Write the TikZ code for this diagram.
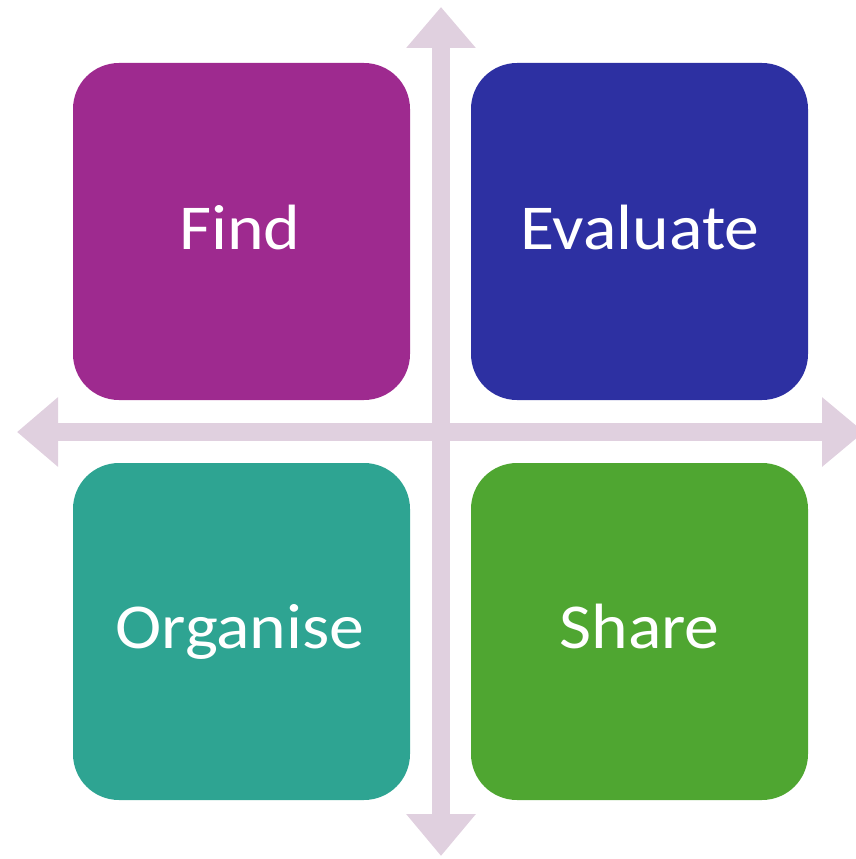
\documentclass[tikz,border=0pt]{standalone}
\usepackage{fontspec}
\usepackage{graphicx}
\setmainfont{Carlito}
\usetikzlibrary{arrows.meta}
\definecolor{arrowc}{RGB}{224,208,223}
\definecolor{findc}{RGB}{158,42,143}
\definecolor{evalc}{RGB}{45,48,162}
\definecolor{orgc}{RGB}{46,164,146}
\definecolor{sharec}{RGB}{79,166,49}
\newcommand{\qtext}[1]{\scalebox{1.09}[1]{#1}}
\tikzset{
  quad/.style={rounded corners=46pt, minimum width=337pt, minimum height=337pt, inner sep=0pt, draw=none},
  lbl/.style={text=white, font=\fontsize{64}{64}\selectfont, anchor=base, inner sep=0pt},
  axis/.style={arrowc, line width=18pt, {Triangle[length=41pt,width=67pt]}-{Triangle[length=42pt,width=67pt]}}
}
\begin{document}
\begin{tikzpicture}[x=1pt,y=-1pt]
\useasboundingbox (0,0) rectangle (856,859);
\clip (0,0) rectangle (856,859);
\coordinate (vtop) at (441,7);
\coordinate (vbot) at (441,856);
\coordinate (hleft) at (17,432);
\coordinate (hright) at (864,432);
\draw[axis] (vtop) -- (vbot);
\draw[axis] (hleft) -- (hright);
\node[quad, fill=findc] (find) at (241.5,231.5) {};
\node[quad, fill=evalc] (eval) at (639.5,231.5) {};
\node[quad, fill=orgc] (org) at (241.5,631.5) {};
\node[quad, fill=sharec] (share) at (639.5,631.5) {};
\node[lbl] (findt) at (240,249) {\qtext{Find}};
\node[lbl] (evalt) at (640,249) {\qtext{Evaluate}};
\node[lbl] (orgt) at (240,648) {\qtext{Organise}};
\node[lbl] (sharet) at (639.5,648) {\qtext{Share}};
\end{tikzpicture}
\end{document}
